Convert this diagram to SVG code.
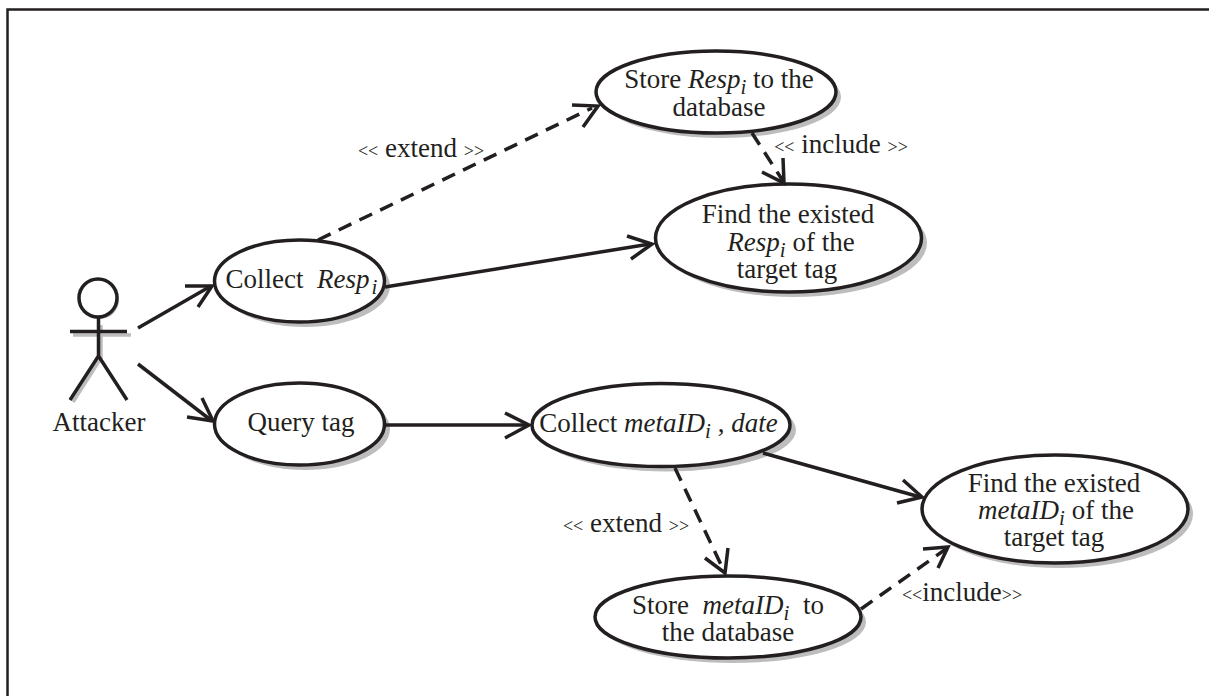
<svg xmlns="http://www.w3.org/2000/svg" width="1209" height="696" viewBox="0 0 1209 696">
<style>
text{font-family:"Liberation Serif","Times New Roman",serif;font-size:27px;fill:#231f20;text-anchor:middle}
.i{font-style:italic}
.sub{font-size:21px;font-style:italic;baseline-shift:-6px}
.small{font-size:18px}
.n{fill:#fff;stroke:#231f20;stroke-width:3.500}
.s{fill:#bdbdbd;stroke:none}
.l{fill:none;stroke:#231f20;stroke-width:3.500}
.d{fill:none;stroke:#231f20;stroke-width:3.500;stroke-dasharray:14 9}
.h{fill:none;stroke:#231f20;stroke-width:3.500}
</style>
<rect width="1209" height="696" fill="#fff"/>
<path d="M7.500 696V9.500H1209" fill="none" stroke="#231f20" stroke-width="2.500"/>
<g id="actor">
<path d="M101 325L101 358L73 402M73 335L131 335" fill="none" stroke="#bdbdbd" stroke-width="3.500"/>
<circle cx="100" cy="300" r="19" fill="#bdbdbd"/>
<circle cx="98" cy="298" r="19" class="n"/>
<path class="l" d="M98.500 317L98.500 356L70 400M98.500 356L127 400M70 331.500L127 331.500"/>
<text x="99" y="431">Attacker</text>
</g>
<g id="collect-resp"><ellipse class="s" cx="305" cy="286" rx="85" ry="41"/><ellipse class="n" cx="299.500" cy="281" rx="85" ry="41"/>
<text x="301.500" y="288">Collect&#160; <tspan class="i">Resp</tspan><tspan class="sub" dx="2">i</tspan></text></g>
<g id="query-tag"><ellipse class="s" cx="305" cy="429" rx="85" ry="41"/><ellipse class="n" cx="299.500" cy="424" rx="85" ry="41"/>
<text x="301" y="431">Query tag</text></g>
<g id="store-resp"><ellipse class="s" cx="721" cy="97" rx="120" ry="41"/><ellipse class="n" cx="716" cy="92" rx="120" ry="41"/>
<text x="719" y="88">Store <tspan class="i">Resp</tspan><tspan class="sub">i</tspan> to the</text><text x="719" y="116">database</text></g>
<g id="find-resp"><ellipse class="s" cx="794" cy="243" rx="133" ry="54"/><ellipse class="n" cx="788.500" cy="238" rx="133" ry="54"/>
<text x="788" y="223">Find the existed</text><text x="791" y="251"><tspan class="i">Resp</tspan><tspan class="sub">i</tspan> of the</text><text x="787" y="278">target tag</text></g>
<g id="collect-meta"><ellipse class="s" cx="667" cy="430" rx="129" ry="41.500"/><ellipse class="n" cx="661" cy="425" rx="129" ry="41.500"/>
<text x="658.500" y="432">Collect <tspan class="i">metaID</tspan><tspan class="sub">i</tspan> , <tspan class="i">date</tspan></text></g>
<g id="find-meta"><ellipse class="s" cx="1060" cy="514" rx="133" ry="54"/><ellipse class="n" cx="1055" cy="509" rx="133" ry="54"/>
<text x="1054" y="492">Find the existed</text><text x="1056" y="519"><tspan class="i">metaID</tspan><tspan class="sub">i</tspan> of the</text><text x="1054" y="546">target tag</text></g>
<g id="store-meta"><ellipse class="s" cx="733" cy="622" rx="133" ry="41"/><ellipse class="n" cx="728" cy="617" rx="133" ry="41"/>
<text x="728" y="614">Store&#160; <tspan class="i">metaID</tspan><tspan class="sub">i</tspan>&#160; to</text><text x="728" y="641">the database</text></g>
<g id="connectors">
<path class="l" d="M138 328L211 286"/><path class="h" d="M185 286L212 286L198 307"/>
<path class="l" d="M138 364L212 421"/><path class="h" d="M187 417L213 421L202 398"/>
<path class="l" d="M385 287L650 244"/><path class="h" d="M627 236L652 244L631 259"/>
<path class="l" d="M385 425L527 425"/><path class="h" d="M505 413L529 425L505 438"/>
<path class="l" d="M763 453L920 497"/><path class="h" d="M903 480L922 497L897 503"/>
<path class="d" d="M318 240L592 108"/><path class="h" d="M572 105L598 106L583 127"/>
<path class="d" d="M752 133L783 181"/><path class="h" d="M762 172L784 183L783 158"/>
<path class="d" d="M675 468L724 571"/><path class="h" d="M705 558L725 573L728 548"/>
<path class="d" d="M861 609L946 549"/><path class="h" d="M923 549L948 547L938 568"/>
</g>
<g id="labels">
<text x="421" y="157"><tspan class="small">&lt;&lt;</tspan> extend <tspan class="small">&gt;&gt;</tspan></text>
<text x="841" y="153"><tspan class="small">&lt;&lt;</tspan> include <tspan class="small">&gt;&gt;</tspan></text>
<text x="626" y="532"><tspan class="small">&lt;&lt;</tspan> extend <tspan class="small">&gt;&gt;</tspan></text>
<text x="962" y="601"><tspan class="small">&lt;&lt;</tspan>include<tspan class="small">&gt;&gt;</tspan></text>
</g>
</svg>
